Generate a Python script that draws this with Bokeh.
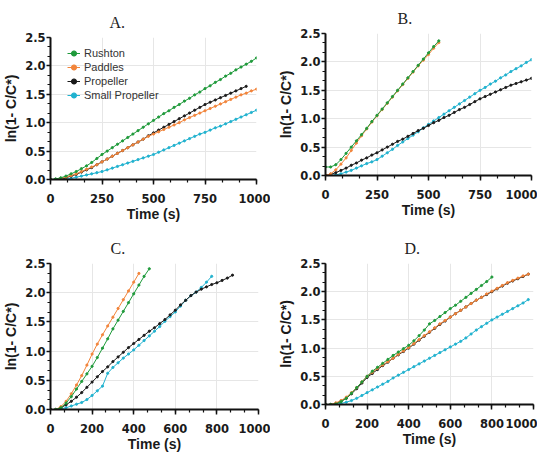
from bokeh.plotting import figure
from bokeh.layouts import column, row
from bokeh.models import (Range1d, SingleIntervalTicker, PrintfTickFormatter,
                          Legend, LegendItem)
from bokeh.embed import file_html
from bokeh.resources import INLINE

# sampling times (s)
t25 = [0, 25, 50, 75, 100, 125, 150, 175, 200, 225, 250, 275, 300, 325, 350,
       375, 400, 425, 450, 475, 500, 525, 550, 575, 600, 625, 650, 675, 700,
       725, 750, 775, 800, 825, 850, 875, 900, 925, 950, 975, 1000]

names = ["Rushton", "Paddles", "Propeller", "Small Propeller"]
colors = ["#1e9a3a", "#f2843a", "#1a1a1a", "#20b2cf"]

# A.
a_rushton = [0, 0.01, 0.03, 0.06, 0.10, 0.14, 0.19, 0.24, 0.30, 0.37, 0.44, 0.50, 0.56, 0.62,
             0.68, 0.74, 0.80, 0.86, 0.92, 0.98, 1.04, 1.10, 1.16, 1.21, 1.27, 1.32, 1.38,
             1.43, 1.49, 1.54, 1.60, 1.65, 1.71, 1.76, 1.82, 1.87, 1.93, 1.98, 2.03, 2.08, 2.14]
a_paddles = [0, 0, 0.02, 0.04, 0.07, 0.10, 0.14, 0.18, 0.22, 0.26, 0.31, 0.36, 0.41, 0.46,
             0.51, 0.56, 0.61, 0.66, 0.71, 0.76, 0.80, 0.84, 0.88, 0.92, 0.96, 1.00, 1.05,
             1.09, 1.13, 1.17, 1.21, 1.25, 1.29, 1.33, 1.37, 1.41, 1.45, 1.49, 1.52, 1.56, 1.59]
a_propeller = [0, 0, 0.01, 0.03, 0.06, 0.09, 0.13, 0.17, 0.21, 0.26, 0.31, 0.36, 0.41, 0.46,
               0.51, 0.56, 0.61, 0.66, 0.71, 0.77, 0.82, 0.87, 0.92, 0.97, 1.02, 1.07, 1.12,
               1.17, 1.22, 1.27, 1.32, 1.36, 1.40, 1.44, 1.48, 1.52, 1.56, 1.60, 1.64]
a_small = [0, 0, 0, 0.01, 0.02, 0.04, 0.06, 0.08, 0.10, 0.12, 0.14, 0.17, 0.20, 0.23, 0.26,
           0.29, 0.32, 0.35, 0.38, 0.41, 0.44, 0.48, 0.52, 0.56, 0.60, 0.64, 0.68, 0.72,
           0.76, 0.80, 0.83, 0.87, 0.91, 0.94, 0.98, 1.02, 1.06, 1.10, 1.14, 1.18, 1.22]

# B.
b_rushton = [0.15, 0.15, 0.19, 0.28, 0.39, 0.50, 0.61, 0.72, 0.83, 0.95, 1.06, 1.17, 1.28,
             1.39, 1.50, 1.61, 1.72, 1.83, 1.94, 2.05, 2.16, 2.27, 2.37]
b_paddles = [0, 0.03, 0.10, 0.20, 0.31, 0.44, 0.57, 0.70, 0.82, 0.94, 1.05, 1.16, 1.27, 1.38,
             1.49, 1.60, 1.71, 1.82, 1.93, 2.03, 2.13, 2.24, 2.34]
b_propeller = [0, 0.02, 0.05, 0.09, 0.13, 0.18, 0.22, 0.27, 0.31, 0.36, 0.40, 0.45, 0.50, 0.55,
               0.60, 0.64, 0.69, 0.74, 0.79, 0.83, 0.88, 0.93, 0.97, 1.02, 1.06, 1.11, 1.16,
               1.20, 1.25, 1.30, 1.35, 1.39, 1.43, 1.47, 1.51, 1.55, 1.59, 1.62, 1.65, 1.68, 1.71]
b_small = [0, 0, 0.01, 0.03, 0.06, 0.09, 0.13, 0.17, 0.21, 0.24, 0.28, 0.34, 0.40, 0.46, 0.53,
           0.59, 0.65, 0.71, 0.77, 0.84, 0.90, 0.96, 1.02, 1.08, 1.14, 1.20, 1.26, 1.32, 1.38,
           1.44, 1.50, 1.55, 1.61, 1.66, 1.72, 1.77, 1.83, 1.88, 1.93, 1.99, 2.04]

# C.
c_rushton = [0, 0, 0.03, 0.11, 0.22, 0.35, 0.48, 0.61, 0.74, 0.89, 1.05, 1.21, 1.38, 1.53,
             1.68, 1.83, 1.98, 2.13, 2.28, 2.41]
c_paddles = [0, 0, 0.05, 0.14, 0.27, 0.42, 0.58, 0.76, 0.95, 1.12, 1.28, 1.43, 1.58, 1.73,
             1.88, 2.03, 2.18, 2.33]
c_propeller = [0, 0, 0.03, 0.08, 0.14, 0.21, 0.29, 0.38, 0.47, 0.56, 0.65, 0.73, 0.82, 0.90,
               0.98, 1.06, 1.13, 1.20, 1.27, 1.34, 1.40, 1.47, 1.54, 1.62, 1.70, 1.79, 1.87,
               1.95, 2.01, 2.06, 2.10, 2.14, 2.17, 2.21, 2.25, 2.30]
c_small = [0, 0, 0.01, 0.03, 0.06, 0.09, 0.12, 0.17, 0.24, 0.32, 0.40, 0.62, 0.72, 0.80, 0.88,
           0.95, 1.02, 1.10, 1.18, 1.26, 1.34, 1.42, 1.51, 1.59, 1.67, 1.77, 1.87, 1.95,
           2.01, 2.09, 2.18, 2.28]

# D.
d_rushton = [0, 0, 0.01, 0.05, 0.11, 0.20, 0.30, 0.40, 0.50, 0.59, 0.66, 0.73, 0.80, 0.87,
             0.93, 0.99, 1.05, 1.13, 1.22, 1.32, 1.43, 1.49, 1.56, 1.63, 1.70, 1.76, 1.83,
             1.90, 1.97, 2.04, 2.11, 2.18, 2.26]
d_paddles = [0, 0, 0.03, 0.07, 0.13, 0.21, 0.30, 0.40, 0.50, 0.57, 0.64, 0.70, 0.76, 0.82,
             0.89, 0.95, 1.01, 1.08, 1.15, 1.22, 1.29, 1.36, 1.43, 1.49, 1.55, 1.61, 1.67,
             1.73, 1.79, 1.85, 1.90, 1.96, 2.01, 2.06, 2.11, 2.16, 2.20, 2.24, 2.28, 2.31]
d_propeller = [0, 0, 0.02, 0.06, 0.11, 0.19, 0.28, 0.38, 0.48, 0.55, 0.62, 0.69, 0.75, 0.82,
               0.88, 0.94, 1.00, 1.07, 1.14, 1.21, 1.28, 1.35, 1.42, 1.48, 1.55, 1.61, 1.67,
               1.73, 1.79, 1.85, 1.90, 1.95, 2.00, 2.05, 2.10, 2.15, 2.19, 2.23, 2.27, 2.31]
d_small = [0, 0, 0, 0.02, 0.04, 0.07, 0.11, 0.16, 0.21, 0.26, 0.31, 0.36, 0.41, 0.47, 0.52,
           0.57, 0.62, 0.67, 0.72, 0.77, 0.82, 0.87, 0.92, 0.97, 1.02, 1.07, 1.12, 1.18,
           1.25, 1.32, 1.38, 1.44, 1.50, 1.55, 1.60, 1.65, 1.70, 1.75, 1.80, 1.86]

SANS = "Liberation Sans"
TICKS = "DejaVu Sans"


def panel(title, series, xstep, frame, borders, title_offset, legend=False):
    fw, fh = frame
    left, right, top, bottom = borders
    p = figure(frame_width=fw, frame_height=fh, output_backend="svg", toolbar_location=None,
               x_range=Range1d(0, 1000), y_range=Range1d(0, 2.5),
               min_border_left=left, min_border_right=right,
               min_border_top=top, min_border_bottom=bottom,
               frame_align=False,
               x_axis_label="Time (s)", y_axis_label="ln(1- C/C*)")
    p.title.text = title
    p.title.align = "left"
    p.title.offset = title_offset
    p.title.text_font = "Liberation Serif"
    p.title.text_font_style = "normal"
    p.title.text_font_size = "16px"
    p.title.text_color = "#222222"
    p.title.standoff = 14
    p.outline_line_color = None
    p.background_fill_color = "white"

    p.xaxis.ticker = SingleIntervalTicker(interval=xstep, num_minor_ticks=3)
    p.yaxis.ticker = SingleIntervalTicker(interval=0.5, num_minor_ticks=3)
    p.yaxis.formatter = PrintfTickFormatter(format="%.1f")
    p.axis.axis_line_width = 2
    p.axis.axis_line_color = "#111111"
    p.axis.major_tick_line_width = 1.5
    p.axis.minor_tick_line_width = 1.2
    p.axis.major_tick_line_color = "#111111"
    p.axis.minor_tick_line_color = "#111111"
    p.axis.major_tick_in = 0
    p.axis.minor_tick_in = 0
    p.xaxis.major_tick_out = 5
    p.xaxis.minor_tick_out = 3
    p.yaxis.major_tick_out = 4
    p.yaxis.minor_tick_out = 3
    p.axis.major_label_text_font = TICKS
    p.axis.major_label_text_font_style = "bold"
    p.axis.major_label_text_font_size = "11.5px"
    p.axis.major_label_text_color = "#1a1a1a"
    p.axis.axis_label_text_font = SANS
    p.axis.axis_label_text_font_style = "bold"
    p.axis.axis_label_text_font_size = "14px"
    p.axis.axis_label_text_color = "#1a1a1a"
    p.xaxis.major_label_standoff = 9
    p.xaxis.axis_label_standoff = 0
    p.yaxis.major_label_standoff = 1
    p.yaxis.axis_label_standoff = 3
    p.grid.grid_line_color = "#e6e6e6"
    p.grid.grid_line_width = 1

    items = []
    # small propeller first so the Rushton curve ends up on top
    for i in [3, 2, 1, 0]:
        ys = series[i]
        xs = t25[:len(ys)]
        ln = p.line(xs, ys, line_color=colors[i], line_width=1)
        sc = p.scatter(xs, ys, size=2.2, color=colors[i], marker="circle")
        items.append(LegendItem(label=names[i], renderers=[ln, sc]))
    if legend:
        leg = Legend(items=items[::-1], location=(17, 77), border_line_color=None,
                     background_fill_alpha=0, padding=0, margin=0, spacing=0,
                     label_text_font=SANS, label_text_font_size="11px",
                     label_text_color="#333333", label_height=14, glyph_height=14,
                     glyph_width=13, label_standoff=4)
        p.add_layout(leg)
    return p


pa = panel("A.", [a_rushton, a_paddles, a_propeller, a_small], 250,
           (206, 142), (47, 14, 37, 44), 59, legend=True)
pb = panel("B.", [b_rushton, b_paddles, b_propeller, b_small], 250,
           (206, 142), (55, 6, 26, 55), 72)
pc = panel("C.", [c_rushton, c_paddles, c_propeller, c_small], 200,
           (208, 146), (47, 12, 26, 50), 60)
pd = panel("D.", [d_rushton, d_paddles, d_propeller, d_small], 200,
           (208, 141), (55, 4, 25, 56), 79)

layout = column(row(pa, pb), row(pc, pd))
open("out.html", "w").write(file_html(layout, INLINE))
